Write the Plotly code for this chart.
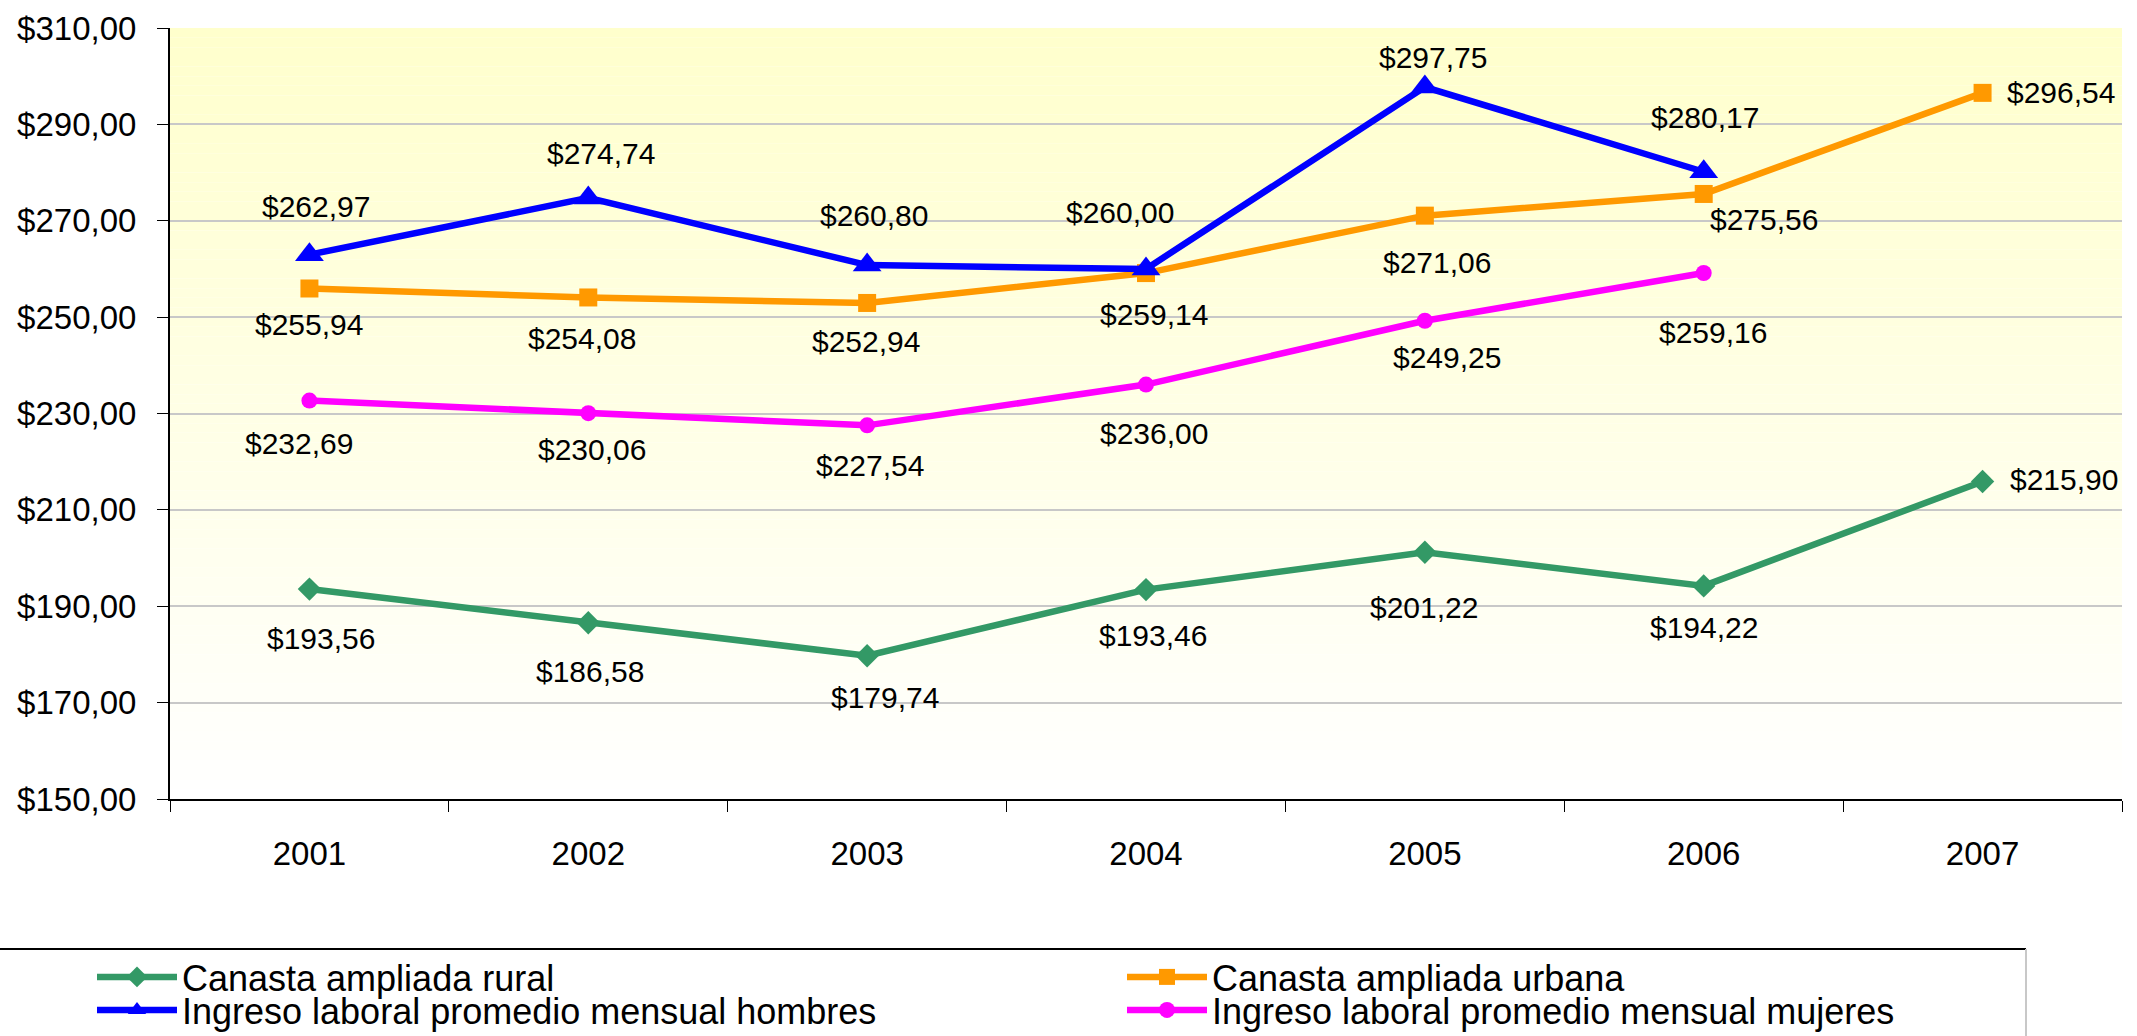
import plotly.graph_objects as go

# years on the x axis
years = ["2001", "2002", "2003", "2004", "2005", "2006", "2007"]

# monthly values in dollars
rural = [193.56, 186.58, 179.74, 193.46, 201.22, 194.22, 215.90]
urbana = [255.94, 254.08, 252.94, 259.14, 271.06, 275.56, 296.54]
hombres = [262.97, 274.74, 260.80, 260.00, 297.75, 280.17, None]
mujeres = [232.69, 230.06, 227.54, 236.00, 249.25, 259.16, None]

names = ["Canasta ampliada rural", "Canasta ampliada urbana",
         "Ingreso laboral promedio mensual hombres", "Ingreso laboral promedio mensual mujeres"]

y_ticks = [150, 170, 190, 210, 230, 250, 270, 290, 310]

# label offsets in pixels (dx, dy down), the labels were placed by hand in the original
off_rural = [(12, 49), (2, 49), (18, 42), (7, 46), (-1, 55), (0, 42), (81, -2)]
off_urbana = [(0, 36), (-6, 41), (-1, 39), (8, 41), (12, 47), (60, 26), (78, 0)]
off_hombres = [(7, -48), (13, -44), (7, -50), (-26, -56), (8, -30), (1, -54)]
off_mujeres = [(-10, 43), (4, 36), (3, 40), (8, 49), (22, 37), (9, 60)]

FONT = "Liberation Sans, Arial, sans-serif"

# plot area in pixels: left 170, right 2122, top 28, bottom 799
L, R, T, B = 170, 2122, 28, 799
W, H = R - L, B - T


def px_x(p):
    return (p - L) / W


def px_y(p):
    return (B - p) / H


def money(v):
    return "$" + f"{v:.2f}".replace(".", ",")


# trace style + where its legend entry goes (left px of legend, row centre px)
series = [
    (rural, names[0], "#339966", "diamond", 18, off_rural, "legend", 92, 977),
    (urbana, names[1], "#FF9900", "square", 18, off_urbana, "legend2", 1122, 977),
    (hombres, names[2], "#0000FF", "triangle-up", 25, off_hombres, "legend3", 92, 1010),
    (mujeres, names[3], "#FF00FF", "circle", 16, off_mujeres, "legend4", 1122, 1010),
]

fig = go.Figure()
annotations = []
legends = {}
for vals, name, color, symbol, msize, offs, leg, lx, ly in series:
    fig.add_trace(go.Scatter(
        x=years, y=vals, name=name, mode="lines+markers",
        line=dict(color=color, width=6.5),
        marker=dict(symbol=symbol, size=msize, color=color),
        legend=leg, hoverinfo="skip",
    ))
    legends[leg] = dict(x=px_x(lx), y=px_y(ly), xanchor="left", yanchor="middle",
                        orientation="v", itemwidth=80, font=dict(size=36, family=FONT, color="black"),
                        bgcolor="rgba(0,0,0,0)", itemclick=False, itemdoubleclick=False)
    for i, v in enumerate(vals):
        if v is None:
            continue
        dx, dy = offs[i]
        annotations.append(dict(
            x=i, y=v, xref="x", yref="y", text=money(v), showarrow=False,
            xshift=dx, yshift=-dy, font=dict(size=30, color="black", family=FONT),
        ))

# yellow to white gradient behind the plot
shapes = []
n = 80
for k in range(n):
    b = int(round(255 - 51 * (k + 0.5) / n))
    shapes.append(dict(type="rect", xref="paper", yref="paper", x0=0, x1=1,
                       y0=k / n, y1=(k + 1) / n, layer="below", line=dict(width=0),
                       fillcolor=f"rgb(255,255,{b})"))

# legend box lines
shapes.append(dict(type="line", xref="paper", yref="paper", x0=px_x(-5), x1=px_x(2026),
                   y0=px_y(949), y1=px_y(949), line=dict(color="black", width=2)))
shapes.append(dict(type="line", xref="paper", yref="paper", x0=px_x(2026), x1=px_x(2026),
                   y0=px_y(949), y1=px_y(1045), line=dict(color="#C8C8C8", width=2)))

fig.update_layout(
    width=2137, height=1036,
    margin=dict(l=L, r=2137 - R, t=T, b=1036 - B, autoexpand=False),
    paper_bgcolor="white", plot_bgcolor="white",
    font=dict(family=FONT, color="black", size=33),
    showlegend=True,
    shapes=shapes,
    annotations=annotations,
    **legends,
)

fig.update_xaxes(
    type="category", range=[-0.5, 6.5], showgrid=False,
    showline=True, linecolor="black", linewidth=2,
    ticks="outside", tickson="boundaries", ticklen=11, tickcolor="black", tickwidth=1,
    ticklabelstandoff=24, tickfont=dict(size=33),
)
fig.update_yaxes(
    range=[150, 310], tickvals=y_ticks, ticktext=[money(t) for t in y_ticks],
    showgrid=True, gridcolor="#C8C8C8", gridwidth=2, zeroline=False,
    showline=True, linecolor="black", linewidth=2,
    ticks="outside", ticklen=11, tickcolor="black", tickwidth=1,
    ticklabelstandoff=14, tickfont=dict(size=33),
)

# page body has an 8px margin by default, drop it so the figure fills the window
fig.write_html("out.html", config={"displayModeBar": False},
               post_script="document.body.style.margin='0';")
